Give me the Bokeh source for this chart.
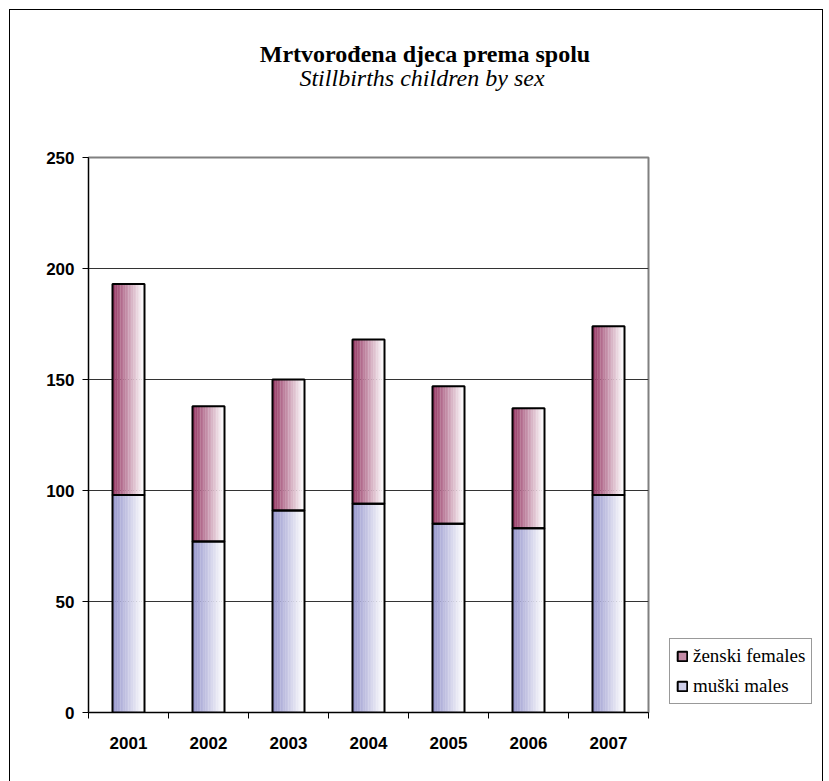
from bokeh.plotting import figure
from bokeh.models import FixedTicker, Range1d, Legend, LegendItem, Div
from bokeh.layouts import column, row
from bokeh.embed import file_html
from bokeh.resources import INLINE

years = ["2001", "2002", "2003", "2004", "2005", "2006", "2007"]
males = [98, 77, 91, 94, 85, 83, 98]
females = [95, 61, 59, 74, 62, 54, 76]
y_ticks = [0, 50, 100, 150, 200, 250]
title_hr = "Mrtvorođena djeca prema spolu"
title_en = "Stillbirths children by sex"
label_f = "ženski females"
label_m = "muški males"

totals = [m + f for m, f in zip(males, females)]
centers = [i + 0.5 for i in range(len(years))]

W = 812
MAIN_W = 658
H = 671
head = Div(
    text=(
        '<div style="font-family:\'Liberation Serif\';color:black;'
        'text-align:center;width:812px;padding-top:32px;padding-left:18px;'
        'box-sizing:border-box;">'
        '<div style="font-weight:bold;font-size:24px;line-height:24px;">'
        + title_hr + '</div>'
        '<div style="font-style:italic;font-size:24px;line-height:24px;'
        'padding-right:6px;">' + title_en + '</div></div>'
    ),
    width=W, height=100, margin=0)

p = figure(width=MAIN_W, height=H, output_backend="svg", toolbar_location=None,
           x_range=Range1d(0, len(years)), y_range=Range1d(0, 250),
           min_border_left=78, min_border_right=20, min_border_top=47,
           min_border_bottom=69, margin=0)
p.background_fill_color = "white"
p.border_fill_color = "white"
p.outline_line_color = "#808080"
p.outline_line_width = 2


def mix(c1, c2, t):
    r = [round(a * (1 - t) + b * t) for a, b in zip(c1, c2)]
    return "#%02x%02x%02x" % tuple(r)


F_DARK = (150, 55, 100)
M_DARK = (150, 150, 205)
WHITE = (255, 255, 255)
K = 20
bw = 0.4
sw = bw / K
for j in range(K):
    t = j / (K - 1)
    off = -bw / 2 + (j + 0.5) * sw
    xs = [c + off for c in centers]
    p.vbar(x=xs, width=sw * 1.15, bottom=0, top=males,
           fill_color=mix(M_DARK, WHITE, t), line_color=None)
    p.vbar(x=xs, width=sw * 1.15, bottom=males, top=totals,
           fill_color=mix(F_DARK, WHITE, t), line_color=None)

p.vbar(x=centers, width=bw, bottom=0, top=males, fill_color=None,
       line_color="black", line_width=2)
p.vbar(x=centers, width=bw, bottom=males, top=totals, fill_color=None,
       line_color="black", line_width=2)

# axes
p.xgrid.grid_line_color = None
p.ygrid.grid_line_color = "#333333"
p.ygrid.grid_line_width = 1
p.yaxis.ticker = FixedTicker(ticks=y_ticks)
p.ygrid.ticker = FixedTicker(ticks=y_ticks[1:-1])
p.yaxis.axis_line_color = "black"
p.yaxis.major_tick_line_color = "black"
p.yaxis.major_tick_out = 6
p.yaxis.major_tick_in = 0
p.yaxis.minor_tick_out = 0
p.yaxis.minor_tick_in = 0
p.yaxis.major_label_standoff = 8
p.yaxis.major_label_text_font = "Liberation Sans"
p.yaxis.major_label_text_font_style = "bold"
p.yaxis.major_label_text_font_size = "17px"
p.yaxis.major_label_text_color = "black"

p.xaxis.ticker = FixedTicker(ticks=centers, minor_ticks=list(range(len(years) + 1)))
p.xaxis.major_label_overrides = {c: y for c, y in zip(centers, years)}
p.xaxis.axis_line_color = "black"
p.xaxis.major_tick_out = 0
p.xaxis.major_tick_in = 0
p.xaxis.minor_tick_out = 6
p.xaxis.minor_tick_in = 0
p.xaxis.minor_tick_line_color = "black"
p.xaxis.major_label_standoff = 18
p.xaxis.major_label_text_font = "Liberation Sans"
p.xaxis.major_label_text_font_style = "bold"
p.xaxis.major_label_text_font_size = "17px"
p.xaxis.major_label_text_color = "black"

# legend panel: a bare figure to the right of the chart
lf = figure(width=W - MAIN_W, height=H, output_backend="svg",
            toolbar_location=None, x_range=Range1d(0, 1), y_range=Range1d(0, 1),
            x_axis_type=None, y_axis_type=None, min_border=0, margin=0)
lf.grid.grid_line_color = None
lf.outline_line_color = None
lf.background_fill_color = "white"
lf.border_fill_color = "white"
# legend swatch proxies, hidden underneath the opaque legend box
lg_f = lf.vbar(x=[0.5], width=0.05, bottom=[0.06], top=[0.07],
               fill_color="#c38aa6", line_color="black", line_width=2)
lg_m = lf.vbar(x=[0.5], width=0.05, bottom=[0.06], top=[0.07],
               fill_color="#cfcfea", line_color="black", line_width=2)
legend = Legend(items=[LegendItem(label=label_f, renderers=[lg_f]),
                       LegendItem(label=label_m, renderers=[lg_m])],
                location=(1, 8), border_line_color="#333333",
                border_line_width=1, background_fill_color="white",
                background_fill_alpha=1.0,
                label_text_font="Liberation Serif", label_text_font_size="19px",
                label_text_color="black",
                glyph_width=12, glyph_height=12, spacing=8, padding=6,
                margin=0, label_standoff=5, label_height=21)
lf.add_layout(legend)

page = column(head, row(p, lf, spacing=0), spacing=0,
              styles={"border": "1px solid black", "margin": "9px 0 0 9px",
                      "background-color": "white"})

open("out.html", "w").write(file_html(page, INLINE))
